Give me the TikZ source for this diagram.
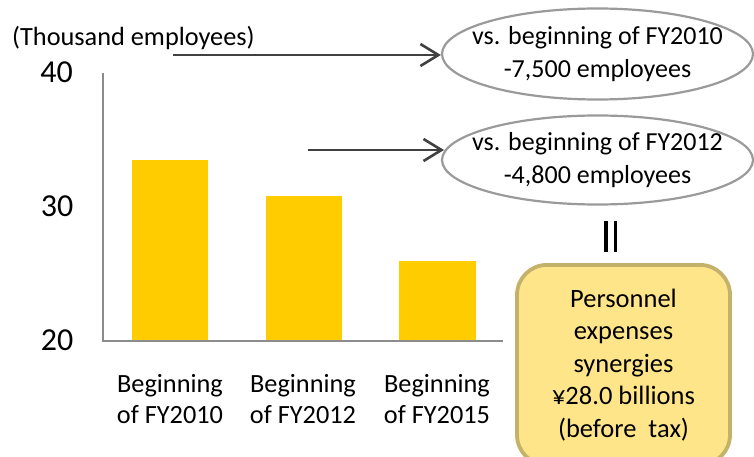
\documentclass[tikz,border=0pt]{standalone}
\usepackage{fontspec}
\setmainfont{Carlito}
\usetikzlibrary{shapes.geometric,arrows.meta}
\definecolor{barcol}{HTML}{FFCC00}
\definecolor{axcol}{HTML}{8C8C8C}
\definecolor{arcol}{HTML}{404040}
\definecolor{elcol}{HTML}{9A9A9A}
\definecolor{boxfill}{HTML}{FFE58A}
\definecolor{boxdraw}{HTML}{C4B26A}
\tikzset{
  lbl/.style={font=\fontsize{26.3}{31}\selectfont, inner sep=0pt, align=center},
  tick/.style={font=\fontsize{32}{36}\selectfont, inner sep=0pt},
  bar/.style={fill=barcol, draw=none},
  axis/.style={draw=axcol, line width=2pt},
  conn/.style={draw=arcol, line width=2.6pt, -{Straight Barb[length=18pt,width=22pt,line width=2.6pt]}},
  oval/.style={ellipse, draw=elcol, line width=2.2pt, inner sep=0pt},
  ovaltext/.style={align=center, inner sep=0pt, font=\fontsize{26}{33}\selectfont},
  sumbox/.style={draw=boxdraw, fill=boxfill, line width=3.8pt, rounded corners=30pt,
    minimum width=213pt, minimum height=200pt, align=center, inner sep=0pt,
    font=\fontsize{26.5}{32.5}\selectfont}
}
\begin{document}
\begin{tikzpicture}[x=1pt,y=-1pt]
\useasboundingbox (0,0) rectangle (754,457);
% bars
\node[bar, minimum width=76.5pt, minimum height=181pt, anchor=south west, inner sep=0pt] (b1) at (131.7,341) {};
\node[bar, minimum width=76.5pt, minimum height=145pt, anchor=south west, inner sep=0pt] (b2) at (265.3,341) {};
\node[bar, minimum width=76.5pt, minimum height=80pt, anchor=south west, inner sep=0pt] (b3) at (399,341) {};
% axes
\coordinate (o) at (103,341);
\coordinate (ytop) at (103,72.7);
\coordinate (xend) at (503,341);
\draw[axis] (ytop) -- (o) -- (xend);
% tick labels
\node[tick] (t40) at (56.5,72.5) {40};
\node[tick] (t30) at (57,206) {30};
\node[tick] (t20) at (57,340) {20};
\node[lbl, anchor=west] (unit) at (12,38) {(Thousand employees)};
% category labels
\node[lbl] (c1) at (170,399) {Beginning\\of FY2010};
\node[lbl] (c2) at (303,399) {Beginning\\of FY2012};
\node[lbl] (c3) at (437,399) {Beginning\\of FY2015};
% ovals
\node[oval, minimum width=311pt, minimum height=91pt,
  label={[ovaltext]center:vs. beginning of FY2010\\-7,500 employees}] (e1) at (597.5,54) {};
\node[oval, minimum width=311pt, minimum height=89pt,
  label={[ovaltext]center:vs. beginning of FY2012\\-4,800 employees}] (e2) at (597.5,160) {};
% arrows
\coordinate (s1) at (173,55);
\coordinate (s2) at (308,150);
\coordinate (f2) at (444,150);
\draw[conn] (s1) -- (s1 -| e1.west);
\draw[conn] (s2) -- (f2);
% equals sign
\draw[line width=3.5pt] (606,221) -- (606,251.5);
\draw[line width=3.5pt] (615.7,221) -- (615.7,251.5);
% summary box
\node[sumbox, anchor=north] (box) at (623.5,263) {Personnel\\expenses\\synergies\\¥28.0 billions\\(before~~tax)};
\end{tikzpicture}
\end{document}
